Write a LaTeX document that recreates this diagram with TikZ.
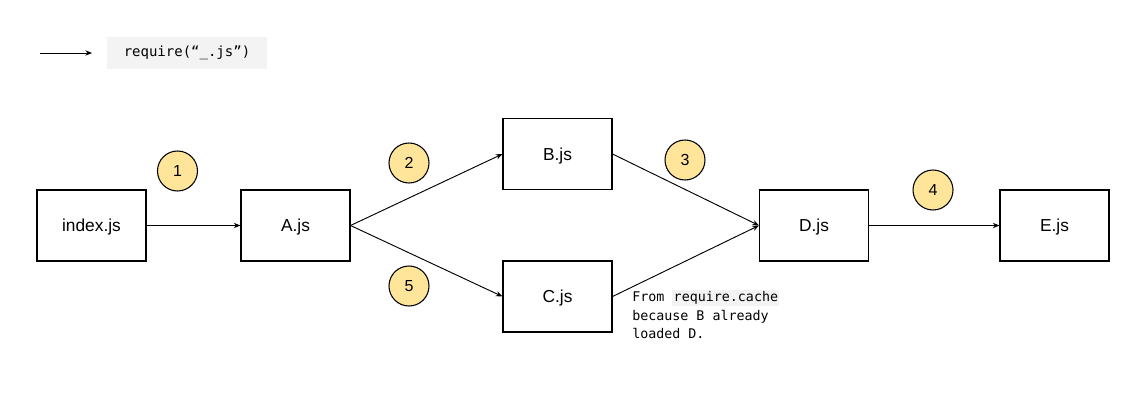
\documentclass[tikz,border=0pt]{standalone}
\usepackage{xcolor}
\usepackage{fontspec}
\setmainfont{Liberation Sans}
\newfontfamily\codefont{DejaVu Sans Mono}
\usepackage{tikz}
\usetikzlibrary{arrows.meta}

\definecolor{stepyellow}{HTML}{FFE599}
\definecolor{codegray}{HTML}{F3F3F3}

\begin{document}
\begin{tikzpicture}[x=0.75pt,y=-0.75pt,
	file/.style={draw,line width=0.8pt,minimum width=81.75pt,minimum height=53.25pt,inner sep=0pt,text height=9.3pt,text depth=0pt,font=\fontsize{13}{15}\selectfont},
	stepnum/.style={circle,draw,line width=0.8pt,fill=stepyellow,minimum size=30pt,inner sep=0pt,text height=8.6pt,text depth=0pt,font=\fontsize{12}{14}\selectfont},
	req/.style={-{Stealth[length=5pt,width=4pt]},line width=0.7pt}]

	\useasboundingbox (0,0) rectangle (1134,407);

			% legend
			\coordinate (l1) at (40,53);
			\coordinate (l2) at (92,53);
			\draw [req] (l1) -- (l2);
			\node (legend) at (187,53) [fill=codegray,minimum width=120pt,minimum height=24pt,font=\codefont\fontsize{10.5}{12}\selectfont] {require(“\_.js”)};

			% files
			\node (index) at (91.5,225.5) [file] {index.js};
			\node (a) at (295.5,225.5) [file] {A.js};
			\node (b) at (557.5,154) [file] {B.js};
			\node (c) at (557.5,296.5) [file] {C.js};
			\node (d) at (814,225.5) [file] {D.js};
			\node (e) at (1054.5,225.5) [file] {E.js};

			\draw [req] (index.east) -- (a.west);
			\draw [req] (a.east) -- (b.west);
			\draw [req] (a.east) -- (c.west);
			\draw [req] (b.east) -- (d.west);
			\draw [req] (c.east) -- (d.west);
			\draw [req] (d.east) -- (e.west);

			% order of loading
			\node (s1) at (177.5,171) [stepnum] {1};
			\node (s2) at (409,163) [stepnum] {2};
			\node (s3) at (685,160) [stepnum] {3};
			\node (s4) at (933,190) [stepnum] {4};
			\node (s5) at (409,286) [stepnum] {5};

			\node (note) at (632,290) [anchor=north west,align=left,inner sep=0pt,font=\codefont\fontsize{10}{13.9}\selectfont]
				{From {\fboxsep=1pt\colorbox{codegray}{require.cache}}\\because B already\\loaded D.};
		\end{tikzpicture}
\end{document}
